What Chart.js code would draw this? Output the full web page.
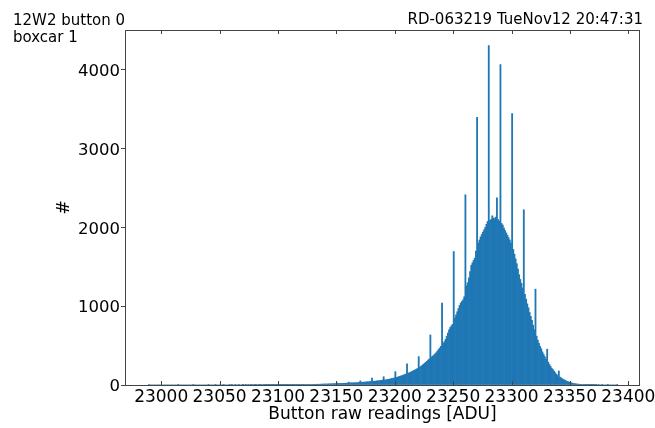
<!DOCTYPE html>
<html>
<head>
<meta charset="utf-8">
<script src="https://cdn.jsdelivr.net/npm/chart.js@4"></script>
<style>
  body { margin: 0; background: #fff; }
  #wrap { width: 655px; height: 428px; }
</style>
</head>
<body>
<div id="wrap"><canvas id="hist"></canvas></div>
<script>
// histogram of button readings, one bin per ADU starting at firstBin
const firstBin = 22989;
const counts = [
    1, 0, 0, 0, 0, 0, 0, 0, 0, 0, 0,                 // 22989-22999
    0, 0, 0, 0, 0, 0, 0, 0, 0, 0,                    // 23000
    0, 0, 0, 0, 1, 0, 0, 0, 0, 0,
    0, 0, 0, 0, 0, 0, 0, 1, 0, 0,
    0, 0, 0, 0, 0, 0, 0, 0, 0, 0,
    1, 0, 0, 0, 0, 0, 1, 0, 0, 0,
    0, 0, 0, 1, 0, 0, 0, 0, 1, 0,
    1, 0, 0, 1, 0, 0, 1, 0, 0, 1,
    1, 0, 1, 0, 1, 0, 1, 1, 0, 1,
    2, 1, 0, 1, 1, 1, 0, 1, 2, 1,
    1, 1, 2, 1, 1, 2, 1, 2, 1, 2,                    // 23090
    2, 1, 2, 2, 1, 3, 2, 2, 3, 2,                    // 23100
    3, 2, 3, 4, 3, 3, 4, 3, 4, 5,                    // 23110
    5, 4, 5, 6, 5, 6, 7, 6, 7, 8,                    // 23120
    9, 8, 9, 9, 10, 9, 11, 11, 12, 11,               // 23130
    14, 12, 13, 14, 15, 14, 16, 17, 16, 18,          // 23140
    26, 18, 19, 20, 19, 21, 22, 21, 23, 24,          // 23150
    36, 25, 27, 26, 28, 29, 28, 30, 31, 33,          // 23160
    52, 34, 36, 35, 38, 39, 41, 40, 43, 45,          // 23170
    89, 47, 49, 48, 52, 54, 53, 57, 59, 62,          // 23180
    105, 64, 67, 70, 72, 75, 79, 82, 86, 90,         // 23190
    169, 96, 101, 106, 110, 116, 121, 127, 133, 139, // 23200
    270, 150, 156, 163, 171, 178, 185, 193, 201, 210, // 23210
    360, 226, 238, 250, 262, 275, 288, 300, 315, 330, // 23220
    635, 355, 368, 380, 395, 410, 430, 450, 470, 490, // 23230
    1040, 530, 550, 580, 620, 660, 700, 730, 750, 770, // 23240
    1694, 850, 890, 930, 970, 1010, 1040, 1060, 1080, 1120, // 23250
    2414, 1260, 1300, 1360, 1440, 1520, 1550, 1580, 1610, 1700, // 23260
    3397, 1800, 1840, 1880, 1910, 1940, 1970, 2000, 2040, 2075, // 23270
    4307, 2090, 2100, 2147, 2120, 2110, 2130, 2376, 2100, 2080, // 23280
    4066, 2050, 2030, 1990, 1960, 1930, 1900, 1870, 1840, 1800, // 23290
    3443, 1720, 1660, 1600, 1540, 1470, 1400, 1340, 1290, 1230, // 23300
    2224, 1150, 1090, 1030, 980, 920, 870, 820, 760, 700, // 23310
    1216, 620, 570, 530, 490, 460, 420, 390, 360, 330, // 23320
    454, 290, 260, 235, 210, 195, 175, 155, 135, 120, // 23330
    178, 100, 90, 80, 70, 62, 55, 48, 42, 36,        // 23340
    30, 26, 22, 19, 16, 14, 12, 10, 8, 7,            // 23350
    6, 5, 4, 4, 3, 3, 2, 2, 2, 1,                    // 23360
    1, 1, 1, 0, 1, 0, 0, 1, 0, 0,                    // 23370
    0, 0, 1, 0, 0, 0, 0, 0, 0, 0, 1                  // 23380-23390
];
const xTicks = [23000, 23050, 23100, 23150, 23200, 23250, 23300, 23350, 23400];
const yTicks = [0, 1000, 2000, 3000, 4000];

const FONT = "'DejaVu Sans', sans-serif";
const points = counts.map((c, i) => ({ x: firstBin + i + 0.5, y: c }));

// frame, inward x ticks and the header texts
const decorations = {
    id: 'decorations',
    afterDraw(chart) {
        const { ctx, chartArea: a, scales } = chart;
        ctx.save();
        ctx.strokeStyle = '#444';
        ctx.lineWidth = 1;
        ctx.strokeRect(a.left + 0.5, a.top + 0.5, a.right - a.left - 1, a.bottom - a.top);
        xTicks.forEach((v) => {
            const px = Math.round(scales.x.getPixelForValue(v)) + 0.5;
            ctx.beginPath();
            ctx.moveTo(px, a.bottom); ctx.lineTo(px, a.bottom - 4);
            ctx.moveTo(px, a.top); ctx.lineTo(px, a.top + 4);
            ctx.stroke();
        });
        ctx.fillStyle = '#000';
        ctx.font = '15px ' + FONT;
        ctx.textBaseline = 'alphabetic';
        ctx.textAlign = 'left';
        ctx.fillText('12W2 button 0', 13, 24.5);
        ctx.fillText('boxcar 1', 13, 41.5);
        ctx.textAlign = 'right';
        ctx.fillText('RD-063219 TueNov12 20:47:31', 643, 24);
        ctx.font = '17px ' + FONT;
        ctx.textAlign = 'center';
        ctx.fillText('Button raw readings [ADU]', (a.left + a.right) / 2, 419);
        ctx.translate(65, (a.top + a.bottom) / 2);
        ctx.rotate(-Math.PI / 2);
        ctx.textBaseline = 'middle';
        ctx.fillText('#', 0, 0);
        ctx.restore();
    }
};

new Chart(document.getElementById('hist'), {
    type: 'bar',
    data: {
        datasets: [{
            data: points,
            backgroundColor: '#1f77b4',
            borderWidth: 0,
            barPercentage: 1,
            categoryPercentage: 1,
        }],
    },
    options: {
        responsive: true,
        maintainAspectRatio: false,
        animation: false,
        layout: { padding: { left: 0, top: 30, right: 15, bottom: 0 } },
        plugins: { legend: { display: false }, tooltip: { enabled: false } },
        scales: {
            x: {
                type: 'linear',
                min: 22969,
                max: 23410,
                offset: false,
                border: { display: false },
                grid: { display: false, drawTicks: false },
                afterBuildTicks: (scale) => { scale.ticks = xTicks.map((v) => ({ value: v })); },
                afterFit: (scale) => {
                    scale.height = 43;
                    scale.paddingLeft = 0;
                    scale.paddingRight = 0;
                },
                ticks: {
                    padding: 2,
                    maxRotation: 0,
                    autoSkip: false,
                    color: '#000',
                    font: { family: FONT, size: 17 },
                    callback: (v) => String(v),
                },
            },
            y: {
                min: 0,
                max: 4505,
                border: { display: false },
                grid: { drawOnChartArea: false, drawTicks: true, tickLength: 4, color: '#444' },
                afterBuildTicks: (scale) => { scale.ticks = yTicks.map((v) => ({ value: v })); },
                afterFit: (scale) => {
                    scale.width = 125;
                    scale.paddingTop = 0;
                    scale.paddingBottom = 0;
                },
                ticks: {
                    padding: 1,
                    labelOffset: 2,
                    color: '#000',
                    font: { family: FONT, size: 16.5 },
                    callback: (v) => String(v),
                },
            },
        },
    },
    plugins: [decorations],
});
</script>
</body>
</html>
